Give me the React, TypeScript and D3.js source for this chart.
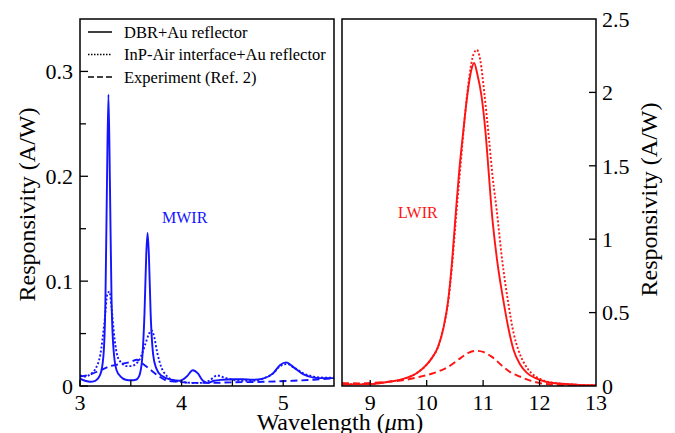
import React from 'react';
import * as d3 from 'd3';

// MWIR panel (left), wavelength in um, responsivity in A/W
const mwirDbr: [number, number][] = [
  [3.0, 0.007], [3.05, 0.005], [3.1, 0.004], [3.15, 0.005], [3.2, 0.011], [3.23, 0.028],
  [3.25, 0.08], [3.265, 0.19], [3.28, 0.278], [3.295, 0.19], [3.31, 0.085], [3.33, 0.035],
  [3.36, 0.015], [3.4, 0.009], [3.45, 0.006], [3.5, 0.0055], [3.55, 0.006], [3.58, 0.009],
  [3.61, 0.024], [3.635, 0.07], [3.652, 0.125], [3.665, 0.146], [3.678, 0.125], [3.695, 0.07],
  [3.72, 0.03], [3.75, 0.017], [3.8, 0.01], [3.9, 0.006], [3.98, 0.005], [4.05, 0.009],
  [4.11, 0.015], [4.16, 0.012], [4.21, 0.005], [4.26, 0.003], [4.32, 0.005], [4.4, 0.006],
  [4.5, 0.0065], [4.6, 0.0065], [4.7, 0.006], [4.8, 0.007], [4.9, 0.012], [4.97, 0.02],
  [5.03, 0.0225], [5.1, 0.018], [5.2, 0.011], [5.3, 0.008], [5.4, 0.0075], [5.5, 0.0075],
];

const mwirInP: [number, number][] = [
  [3.0, 0.01], [3.05, 0.009], [3.1, 0.011], [3.15, 0.016], [3.2, 0.03], [3.24, 0.06],
  [3.27, 0.088], [3.29, 0.09], [3.31, 0.075], [3.34, 0.045], [3.37, 0.028], [3.41, 0.022],
  [3.46, 0.019], [3.5, 0.019], [3.55, 0.021], [3.6, 0.028], [3.64, 0.039], [3.68, 0.05],
  [3.705, 0.053], [3.73, 0.047], [3.76, 0.032], [3.8, 0.018], [3.85, 0.01], [3.9, 0.006],
  [4.0, 0.004], [4.1, 0.003], [4.2, 0.003], [4.27, 0.005], [4.35, 0.01], [4.42, 0.008],
  [4.5, 0.006], [4.6, 0.005], [4.7, 0.005], [4.8, 0.007], [4.9, 0.012], [4.97, 0.019],
  [5.04, 0.021], [5.1, 0.018], [5.2, 0.012], [5.3, 0.009], [5.4, 0.008], [5.5, 0.008],
];

const mwirExp: [number, number][] = [
  [3.0, 0.009], [3.1, 0.011], [3.2, 0.015], [3.3, 0.019], [3.4, 0.021], [3.5, 0.023],
  [3.56, 0.025], [3.62, 0.021], [3.7, 0.015], [3.78, 0.009], [3.86, 0.005], [3.96, 0.004],
  [4.1, 0.003], [4.3, 0.003], [4.5, 0.0035], [4.8, 0.004], [5.1, 0.005], [5.3, 0.006],
  [5.5, 0.0075],
];

// LWIR panel (right)
const lwirDbr: [number, number][] = [
  [8.5, 0.01], [9.0, 0.013], [9.3, 0.027], [9.6, 0.05], [9.83, 0.088], [10.0, 0.145],
  [10.1, 0.195], [10.2, 0.265], [10.3, 0.4], [10.38, 0.58], [10.45, 0.85], [10.52, 1.2],
  [10.58, 1.48], [10.65, 1.74], [10.72, 1.98], [10.79, 2.15], [10.84, 2.2], [10.9, 2.12],
  [10.97, 1.98], [11.04, 1.74], [11.1, 1.45], [11.15, 1.2], [11.25, 0.85], [11.36, 0.58],
  [11.45, 0.39], [11.54, 0.245], [11.65, 0.15], [11.78, 0.088], [11.95, 0.05], [12.13, 0.027],
  [12.4, 0.015], [12.7, 0.008], [13.0, 0.005],
];

const lwirInP: [number, number][] = [
  [8.5, 0.012], [9.0, 0.014], [9.3, 0.028], [9.6, 0.05], [9.83, 0.09], [10.0, 0.145],
  [10.1, 0.195], [10.2, 0.265], [10.3, 0.4], [10.38, 0.57], [10.45, 0.82], [10.52, 1.15],
  [10.6, 1.5], [10.68, 1.85], [10.76, 2.12], [10.83, 2.26], [10.89, 2.29], [10.95, 2.22],
  [11.02, 2.0], [11.1, 1.7], [11.17, 1.42], [11.24, 1.2], [11.34, 0.85], [11.44, 0.58],
  [11.54, 0.36], [11.62, 0.25], [11.72, 0.16], [11.85, 0.09], [12.0, 0.05], [12.13, 0.03],
  [12.4, 0.015], [12.7, 0.008], [13.0, 0.005],
];

const lwirExp: [number, number][] = [
  [8.5, 0.02], [8.8, 0.018], [9.0, 0.02], [9.3, 0.028], [9.6, 0.04], [9.88, 0.063],
  [10.1, 0.085], [10.38, 0.13], [10.6, 0.19], [10.75, 0.228], [10.88, 0.24], [11.0, 0.232],
  [11.15, 0.2], [11.36, 0.13], [11.5, 0.09], [11.66, 0.063], [11.85, 0.035], [12.0, 0.02],
  [12.3, 0.008], [12.6, 0.003], [13.0, 0.001],
];

const leftYMajor = [0, 0.1, 0.2, 0.3];
const leftYMinor = [0.05, 0.15, 0.25];
const leftXTicks = [3, 3.5, 4, 4.5, 5];
const leftXLabels = [3, 4, 5];
const rightYTicks = [0.5, 1, 1.5, 2];
const rightYLabels = [0, 0.5, 1, 1.5, 2, 2.5];
const rightXTicks = [9, 10, 11, 12];
const rightXLabels = [9, 10, 11, 12, 13];

const legendItems = [
  { label: 'DBR+Au reflector', dash: 'none' },
  { label: 'InP-Air interface+Au reflector', dash: '1.5,1.5' },
  { label: 'Experiment (Ref. 2)', dash: '6,3' },
];

const BLUE = '#1414ff';
const RED = '#ff1414';
const FONT = '"Liberation Serif", "Times New Roman", serif';

const App = () => {
  const top = 19;
  const bottom = 386;

  const xL = d3.scaleLinear().domain([3, 5.5]).range([80, 334]);
  const yL = d3.scaleLinear().domain([0, 0.35]).range([bottom, top]);
  const xR = d3.scaleLinear().domain([8.5, 13]).range([342, 596]);
  const yR = d3.scaleLinear().domain([0, 2.5]).range([bottom, top]);

  const lineL = d3.line<[number, number]>()
    .x(d => xL(d[0]))
    .y(d => yL(d[1]))
    .curve(d3.curveMonotoneX);
  const lineR = d3.line<[number, number]>()
    .x(d => xR(d[0]))
    .y(d => yR(d[1]))
    .curve(d3.curveMonotoneX);

  const fmt = (v: number) => String(v);

  return (
    <svg width={675} height={433} style={{ position: 'absolute', left: 0, top: 0, background: '#fff' }}
      fontFamily={FONT}>
      <defs>
        <clipPath id="clipL"><rect x={80} y={top} width={254} height={bottom - top} /></clipPath>
        <clipPath id="clipR"><rect x={342} y={top} width={254} height={bottom - top} /></clipPath>
      </defs>

      {/* left panel curves */}
      <g clipPath="url(#clipL)" fill="none" stroke={BLUE} strokeWidth={1.9}>
        <path d={lineL(mwirExp) ?? ''} strokeDasharray="7,4" />
        <path d={lineL(mwirInP) ?? ''} strokeDasharray="2,2" />
        <path d={lineL(mwirDbr) ?? ''} />
      </g>

      {/* right panel curves */}
      <g clipPath="url(#clipR)" fill="none" stroke={RED} strokeWidth={1.9}>
        <path d={lineR(lwirExp) ?? ''} strokeDasharray="7,4" />
        <path d={lineR(lwirInP) ?? ''} strokeDasharray="2,2" />
        <path d={lineR(lwirDbr) ?? ''} />
      </g>

      {/* frames */}
      <rect x={80} y={top} width={254} height={bottom - top} fill="none" stroke="#000" strokeWidth={1.5} />
      <rect x={342} y={top} width={254} height={bottom - top} fill="none" stroke="#000" strokeWidth={1.5} />

      {/* ticks, all inward */}
      <g stroke="#000" strokeWidth={1.3}>
        {leftYMajor.map(v => <line key={'lym' + v} x1={80} x2={88} y1={yL(v)} y2={yL(v)} />)}
        {leftYMinor.map(v => <line key={'lyn' + v} x1={80} x2={86} y1={yL(v)} y2={yL(v)} />)}
        {leftXTicks.map(v => <line key={'lx' + v} x1={xL(v)} x2={xL(v)} y1={bottom} y2={bottom - 6} />)}
        {rightYTicks.map(v => <line key={'ry' + v} x1={596} x2={589} y1={yR(v)} y2={yR(v)} />)}
        {rightXTicks.map(v => <line key={'rx' + v} x1={xR(v)} x2={xR(v)} y1={bottom} y2={bottom - 6} />)}
      </g>

      {/* tick labels */}
      <g fontSize={22} fill="#000">
        {leftYMajor.map(v => (
          <text key={'lyl' + v} x={73} y={yL(v)} dy="0.35em" textAnchor="end">{fmt(v)}</text>
        ))}
        {leftXLabels.map(v => (
          <text key={'lxl' + v} x={xL(v)} y={410} textAnchor="middle">{fmt(v)}</text>
        ))}
        {rightYLabels.map(v => (
          <text key={'ryl' + v} x={602} y={yR(v)} dy="0.35em" textAnchor="start">{fmt(v)}</text>
        ))}
        {rightXLabels.map(v => (
          <text key={'rxl' + v} x={xR(v)} y={410} textAnchor="middle">{fmt(v)}</text>
        ))}
      </g>

      {/* axis titles */}
      <text transform={`translate(35,${(top + bottom) / 2 + 2}) rotate(-90)`} textAnchor="middle" fontSize={24}>
        Responsivity (A/W)
      </text>
      <text transform={`translate(657,${(top + bottom) / 2 - 3}) rotate(-90)`} textAnchor="middle" fontSize={24}>
        Responsivity (A/W)
      </text>
      <text x={340} y={430} textAnchor="middle" fontSize={24}>
        Wavelength (<tspan fontStyle="italic">μ</tspan>m)
      </text>

      {/* panel labels */}
      <text x={162} y={223} fontSize={16} fill={BLUE}>MWIR</text>
      <text x={398} y={218} fontSize={16} fill={RED}>LWIR</text>

      {/* legend */}
      {legendItems.map((it, i) => (
        <g key={it.label}>
          <line x1={88} x2={112} y1={32 + i * 22.5} y2={32 + i * 22.5} stroke="#000" strokeWidth={1.5}
            strokeDasharray={it.dash === 'none' ? undefined : it.dash} />
          <text x={124} y={37.5 + i * 22.5} fontSize={16.5}>{it.label}</text>
        </g>
      ))}
    </svg>
  );
};

export default App;
